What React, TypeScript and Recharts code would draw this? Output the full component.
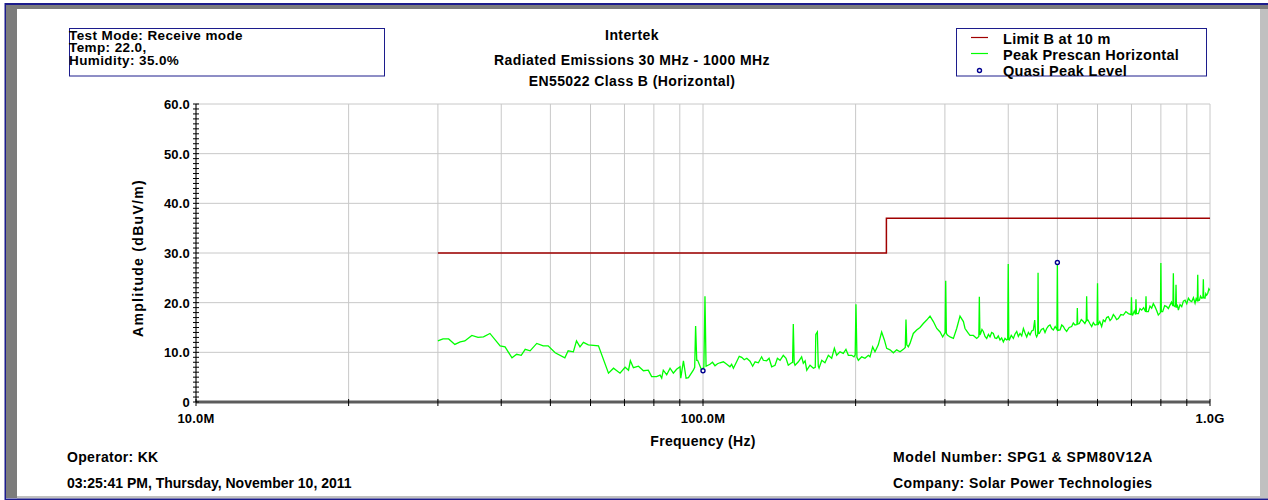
import React from "react";
import { ComposedChart, Line, XAxis, YAxis, CartesianGrid } from "recharts";

// Frequencies in MHz, levels in dBuV/m
const limitFreq = [30, 230, 230, 1000];
const limitLevel = [30, 30, 37, 37];

const qpFreq = [100, 500];
const qpLevel = [6.3, 28.1];

// Peak prescan trace, [MHz, dBuV/m]
const peakPrescan: [number, number][] = [
  [30.0, 12.3], [30.7, 12.7], [31.5, 12.7], [32.4, 11.6], [33.2, 12.1], [33.9, 12.3], [35.0, 13.4],
  [36.0, 13.0], [36.9, 13.1], [38.0, 13.8], [39.8, 11.3], [40.7, 11.1], [42.0, 8.9], [42.9, 9.6],
  [43.8, 9.4], [44.6, 10.6], [45.6, 10.3], [47.0, 11.8], [48.4, 11.3], [49.5, 11.3], [51.1, 9.9],
  [53.4, 8.9], [54.2, 10.3], [55.5, 10.1], [56.3, 12.3], [57.2, 11.1], [58.1, 12.0], [59.4, 11.5],
  [62.2, 11.3], [65.1, 5.8], [66.6, 6.8], [68.6, 5.8], [70.2, 7.0], [71.3, 6.4], [71.9, 8.3],
  [72.9, 6.9], [74.6, 7.2], [76.3, 6.3], [78.0, 6.4], [79.2, 5.1], [81.0, 5.1], [82.3, 5.4],
  [82.9, 4.8], [83.5, 6.4], [84.8, 5.5], [86.1, 6.8], [87.4, 5.8], [88.7, 6.6], [90.1, 7.1],
  [90.4, 4.8], [91.5, 8.3], [92.6, 4.8], [93.6, 4.9], [95.7, 6.4], [96.3, 7.0], [96.7, 15.3],
  [97.2, 8.4], [97.6, 8.4], [99.4, 6.4], [100.4, 7.0], [100.9, 21.3], [101.4, 7.2], [103.2, 7.6],
  [104.4, 8.0], [105.6, 7.3], [106.8, 7.7], [108.0, 7.9], [109.7, 8.1], [111.4, 7.6], [113.0, 7.1],
  [113.9, 7.6], [114.8, 6.8], [116.5, 8.1], [117.9, 9.2], [119.2, 9.0], [120.6, 8.5], [122.0, 8.8],
  [123.8, 8.2], [125.3, 7.2], [126.7, 8.1], [128.6, 7.9], [130.5, 9.1], [131.5, 8.4], [133.5, 8.3],
  [135.0, 8.8], [136.6, 7.1], [138.7, 7.4], [140.2, 8.8], [141.9, 8.4], [144.0, 9.4], [145.8, 8.8],
  [147.3, 7.4], [149.1, 7.8], [150.2, 8.0], [150.7, 15.7], [151.3, 7.9], [151.9, 7.4], [154.2, 8.1],
  [156.5, 9.1], [157.7, 7.8], [159.0, 8.3], [160.2, 6.4], [162.6, 7.4], [165.1, 6.8], [166.5, 7.0],
  [166.9, 13.6], [168.1, 14.1], [168.8, 7.2], [169.4, 6.8], [171.5, 8.4], [174.0, 7.9], [176.7, 9.4],
  [179.4, 8.8], [181.6, 10.8], [183.5, 9.4], [186.3, 10.1], [189.1, 9.8], [191.4, 10.6], [193.5, 9.4],
  [196.4, 9.4], [198.5, 9.1], [199.6, 9.5], [200.3, 19.7], [201.2, 9.0], [202.5, 8.4], [205.6, 9.1],
  [208.7, 8.8], [211.9, 9.4], [213.5, 9.1], [216.1, 11.1], [218.4, 10.1], [221.7, 11.5], [225.1, 14.1],
  [227.9, 12.5], [230.3, 10.8], [233.8, 10.5], [237.4, 9.9], [241.0, 10.5], [244.7, 10.1], [248.4, 10.6],
  [250.6, 11.0], [251.4, 16.6], [252.3, 11.5], [254.1, 11.1], [256.0, 11.8], [259.9, 13.8], [263.9, 14.5],
  [267.9, 15.0], [272.0, 15.8], [276.2, 16.5], [280.4, 17.3], [284.7, 16.2], [289.1, 14.8], [293.5, 14.1],
  [297.0, 13.1], [300.3, 14.0], [301.1, 24.4], [302.0, 13.8], [303.4, 13.5], [307.1, 13.1], [311.8, 12.8],
  [316.5, 14.8], [321.3, 17.3], [326.3, 16.2], [328.7, 14.8], [333.8, 13.8], [336.2, 13.4], [341.4, 13.4],
  [346.6, 12.8], [350.0, 13.2], [350.8, 21.2], [351.7, 13.5], [352.9, 13.8], [355.0, 14.6], [357.2, 14.2],
  [360.0, 13.2], [362.7, 12.8], [365.5, 13.6], [368.2, 13.1], [371.0, 14.0], [373.8, 13.8], [376.5, 12.9],
  [379.5, 12.8], [382.3, 13.3], [385.3, 12.5], [388.2, 12.9], [391.2, 12.1], [394.2, 12.8], [397.2, 12.5],
  [399.0, 12.6], [400.0, 27.8], [401.0, 12.6], [402.0, 12.5], [405.5, 13.4], [409.4, 12.8], [412.5, 13.7],
  [415.7, 14.2], [418.8, 13.2], [422.0, 13.8], [425.2, 13.3], [428.5, 14.8], [431.7, 13.9], [435.0, 13.1],
  [438.3, 14.0], [441.6, 13.5], [445.0, 14.3], [448.3, 14.5], [451.1, 16.5], [453.0, 13.6], [455.1, 13.1],
  [457.3, 13.6], [458.0, 26.0], [458.8, 13.8], [460.7, 13.8], [464.9, 14.6], [469.2, 14.8], [472.7, 14.0],
  [476.3, 14.8], [480.0, 15.3], [483.6, 15.5], [487.3, 14.8], [491.0, 14.5], [495.0, 15.2], [499.0, 14.6],
  [500.0, 27.6], [501.0, 14.4], [506.1, 14.5], [510.0, 15.5], [513.7, 15.2], [517.6, 14.6], [521.5, 14.2],
  [527.5, 15.0], [533.5, 15.2], [537.5, 15.9], [541.6, 15.5], [546.5, 15.6], [547.4, 18.9], [548.4, 15.7],
  [552.4, 15.8], [557.4, 16.6], [562.5, 16.2], [566.5, 15.8], [570.0, 16.4], [571.1, 21.3], [572.3, 16.4],
  [574.6, 16.5], [579.4, 15.8], [584.3, 15.2], [588.7, 16.0], [593.2, 15.5], [598.8, 15.6], [600.0, 23.9],
  [601.2, 15.5], [606.2, 16.2], [611.3, 15.2], [616.0, 16.5], [620.7, 16.2], [625.4, 17.0], [630.2, 17.2],
  [635.0, 16.4], [639.8, 16.8], [644.7, 17.6], [649.6, 17.2], [654.5, 16.6], [659.5, 16.8], [667.0, 17.6],
  [674.7, 17.5], [682.4, 18.2], [690.2, 17.8], [698.6, 17.6], [700.0, 21.1], [701.4, 17.7], [704.0, 17.5],
  [709.0, 18.3], [713.0, 17.6], [714.5, 20.7], [716.0, 17.8], [722.2, 17.8], [727.7, 18.8], [733.2, 18.5],
  [739.7, 19.0], [746.3, 18.2], [747.8, 21.3], [749.3, 18.2], [755.7, 18.2], [761.4, 19.3], [767.2, 18.9],
  [773.0, 19.8], [778.9, 19.2], [784.8, 18.4], [790.8, 17.5], [798.4, 18.0], [800.0, 28.0], [801.6, 18.2],
  [806.6, 18.2], [814.0, 19.4], [821.3, 19.2], [827.6, 18.8], [833.9, 19.5], [839.5, 20.1], [845.0, 19.3],
  [846.7, 25.9], [848.4, 19.4], [853.1, 19.2], [855.3, 19.6], [857.0, 23.6], [858.7, 19.0], [862.0, 19.6],
  [866.2, 18.5], [872.8, 19.6], [879.5, 19.2], [886.2, 20.3], [892.9, 20.5], [899.7, 19.8], [906.6, 20.9],
  [913.5, 20.4], [920.4, 20.2], [927.4, 21.0], [934.4, 19.9], [939.0, 20.8], [944.0, 20.3], [945.8, 25.6],
  [947.6, 20.4], [953.0, 20.5], [958.0, 21.3], [963.2, 20.9], [968.4, 21.0], [970.2, 24.7], [972.0, 21.0],
  [977.6, 20.9], [981.0, 21.8], [984.9, 21.5], [990.0, 21.9], [995.0, 22.8], [1000, 22.5],
];

const xGridFreqs = [10, 20, 30, 40, 50, 60, 70, 80, 90, 100, 200, 300, 400, 500, 600, 700, 800, 900, 1000];
const xTickLabels: Record<number, string> = { 10: "10.0M", 100: "100.0M", 1000: "1.0G" };
const yMajorTicks = [0, 10, 20, 30, 40, 50, 60];
// one small tick per dB between the labelled ones
const yMinorTicks = Array.from({ length: 61 }, (_, i) => i);

const infoLines = ["Test Mode: Receive mode", "Temp: 22.0,", "Humidity: 35.0%"];
const titleLines = ["Intertek", "Radiated Emissions 30 MHz - 1000 MHz", "EN55022 Class B (Horizontal)"];
const legendNames = ["Limit B at 10 m", "Peak Prescan Horizontal", "Quasi Peak Level"];

const limitData = limitFreq.map((f, i) => ({ f, level: limitLevel[i] }));
const qpData = qpFreq.map((f, i) => ({ f, level: qpLevel[i] }));
const peakData = peakPrescan.map(([f, level]) => ({ f, level }));

const FONT = '"Liberation Sans", Arial, sans-serif';
const LIMIT_COLOR = "#a00000";
const PEAK_COLOR = "#00ff00";
const QP_COLOR = "#000090";
const NAVY = "#1c1c8c";

const txt = (size: number, spacing = 0.3): React.CSSProperties => ({
  fontFamily: FONT,
  fontWeight: 700,
  fontSize: size,
  letterSpacing: spacing,
});

function YTick(props: any) {
  const { x, y, payload } = props;
  const v = payload.value as number;
  const major = yMajorTicks.includes(v);
  return (
    <g>
      <line x1={x - 3} x2={x + 3} y1={y} y2={y} stroke="#000" strokeWidth={1} />
      {major && (
        <text x={x - 6} y={y + 5} textAnchor="end" fill="#000" style={txt(13, 0.2)}>
          {v === 0 ? "0" : v.toFixed(1)}
        </text>
      )}
    </g>
  );
}

function XTick(props: any) {
  const { x, y, payload } = props;
  const label = xTickLabels[payload.value as number];
  return (
    <g>
      <line x1={x} x2={x} y1={y - 3} y2={y + 4} stroke="#000" strokeWidth={1} />
      {label && (
        <text x={x} y={y + 21} textAnchor="middle" fill="#000" style={txt(13, 0.2)}>
          {label}
        </text>
      )}
    </g>
  );
}

export default function App() {
  return (
    <div
      style={{
        position: "absolute",
        left: 0,
        top: 0,
        width: 1268,
        height: 500,
        overflow: "hidden",
        background: "#fff",
      }}
    >
      <ComposedChart
        width={1268}
        height={500}
        margin={{ top: 104, right: 58, bottom: 68, left: 136 }}
        style={{ position: "absolute", left: 0, top: 0 }}
      >
        <CartesianGrid stroke="#c8c8c8" horizontalValues={[10, 20, 30, 40, 50, 60]} />
        <XAxis
          type="number"
          dataKey="f"
          scale="log"
          domain={[10, 1000]}
          allowDataOverflow
          ticks={xGridFreqs}
          interval={0}
          tick={<XTick />}
          tickLine={false}
          tickSize={0}
          tickMargin={0}
          axisLine={{ stroke: "#5c5c5c", strokeWidth: 3 }}
          height={30}
        />
        <YAxis
          type="number"
          domain={[0, 60]}
          ticks={yMinorTicks}
          interval={0}
          tick={<YTick />}
          tickLine={false}
          tickSize={0}
          tickMargin={0}
          axisLine={{ stroke: "#000", strokeWidth: 1 }}
          width={60}
        />
        <Line
          data={limitData}
          dataKey="level"
          type="linear"
          stroke={LIMIT_COLOR}
          strokeWidth={1.5}
          dot={false}
          isAnimationActive={false}
        />
        <Line
          data={peakData}
          dataKey="level"
          type="linear"
          stroke={PEAK_COLOR}
          strokeWidth={1.3}
          dot={false}
          isAnimationActive={false}
        />
        <Line
          data={qpData}
          dataKey="level"
          stroke="none"
          dot={{ r: 2, stroke: QP_COLOR, strokeWidth: 1.4, fill: "#fff" }}
          isAnimationActive={false}
        />
      </ComposedChart>

      <svg
        width={1268}
        height={500}
        style={{ position: "absolute", left: 0, top: 0, pointerEvents: "none" }}
      >
        {/* sunken window frame: dark top/left, light bottom/right, navy outline */}
        <rect x={6} y={5} width={1262} height={4} fill="#7c7c7c" />
        <rect x={6} y={5} width={11} height={493} fill="#7c7c7c" />
        <polygon points="6,5 17,9 17,5" fill="#7c7c7c" />
        <rect x={1260} y={9} width={8} height={489} fill="#c0c0c0" />
        <rect x={17} y={496} width={1251} height={2.5} fill="#c0c0c0" />
        <rect x={5} y={3} width={1263} height={2} fill={NAVY} />
        <rect x={4.5} y={3} width={1.5} height={497} fill={NAVY} />
        <rect x={5} y={498.5} width={1263} height={1.5} fill={NAVY} />

        {/* test conditions box */}
        <rect x={69.5} y={28.5} width={315} height={47.5} fill="none" stroke={NAVY} strokeWidth={1} />
        {infoLines.map((t, i) => (
          <text key={t} x={69} y={39.5 + i * 12.5} fill="#000" style={txt(13.5, 0.4)}>
            {t}
          </text>
        ))}

        {/* title */}
        {titleLines.map((t, i) => (
          <text key={t} x={632} y={[39.5, 64.5, 86][i]} textAnchor="middle" fill="#000" style={txt(14, 0.4)}>
            {t}
          </text>
        ))}

        {/* legend */}
        <rect x={956.5} y={28.5} width={250} height={47.5} fill="none" stroke={NAVY} strokeWidth={1} />
        <line x1={971} x2={988} y1={37.5} y2={37.5} stroke={LIMIT_COLOR} strokeWidth={1.2} />
        <line x1={971} x2={988} y1={53.5} y2={53.5} stroke={PEAK_COLOR} strokeWidth={1.2} />
        <circle cx={979.5} cy={70.5} r={2} fill="#fff" stroke={QP_COLOR} strokeWidth={1.4} />
        {legendNames.map((t, i) => (
          <text key={t} x={1003} y={43.5 + i * 16.3} fill="#000" style={txt(14.5, 0.3)}>
            {t}
          </text>
        ))}

        {/* axis titles */}
        <text
          x={0}
          y={0}
          transform="translate(143 258) rotate(-90)"
          textAnchor="middle"
          fill="#000"
          style={txt(14, 1.3)}
        >
          Amplitude (dBuV/m)
        </text>
        <text x={703} y={446} textAnchor="middle" fill="#000" style={txt(14, 0.3)}>
          Frequency (Hz)
        </text>

        {/* run details */}
        <text x={67} y={462} fill="#000" style={txt(14, 0.3)}>
          Operator: KK
        </text>
        <text x={67} y={488} fill="#000" style={txt(14, 0)}>
          03:25:41 PM, Thursday, November 10, 2011
        </text>
        <text x={893} y={462} fill="#000" style={txt(14, 0.6)}>
          Model Number: SPG1 &amp; SPM80V12A
        </text>
        <text x={893} y={488} fill="#000" style={txt(14, 0.4)}>
          Company: Solar Power Technologies
        </text>
      </svg>
    </div>
  );
}
